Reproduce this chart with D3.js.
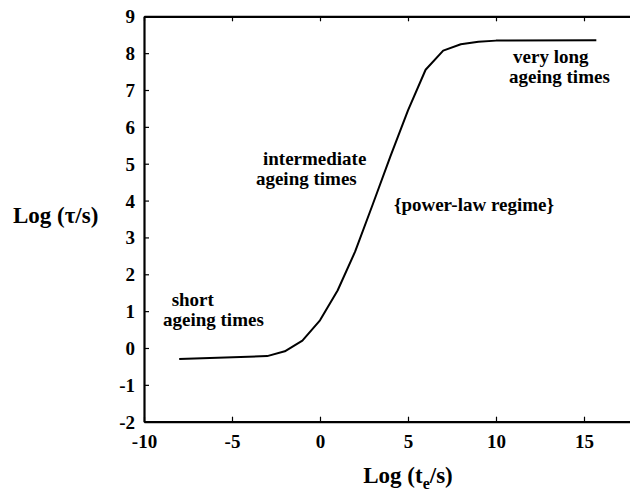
<!DOCTYPE html>
<html>
<head>
<meta charset="utf-8">
<script src="https://cdn.jsdelivr.net/npm/d3@7"></script>
<style>
  html, body { margin: 0; padding: 0; background: #fff; }
  svg text { font-family: "Liberation Serif", "Times New Roman", serif; font-weight: bold; fill: #000; }
</style>
</head>
<body>
<svg id="chart" width="630" height="494"></svg>
<script>
// ---- data ----
const logTe  = [-8, -3, -2, -1, 0, 1, 2, 3, 4, 5, 6, 7, 8, 9, 10, 15.7];
const logTau = [-0.30, -0.22, -0.09, 0.20, 0.75, 1.56, 2.62, 3.9, 5.2, 6.45, 7.55, 8.07, 8.24, 8.31, 8.34, 8.35];
const xTicks = [-10, -5, 0, 5, 10, 15];
const yTicks = [-2, -1, 0, 1, 2, 3, 4, 5, 6, 7, 8, 9];
const noteText = ["very long", "ageing times", "intermediate", "ageing times", "short", "ageing times", "{power-law regime}"];
const noteX    = [10.97, 10.74, -3.24, -3.64, -8.43, -8.92, 4.2];
const noteY    = [7.72, 7.18, 4.97, 4.43, 1.15, 0.61, 3.73];

// ---- layout ----
const svg = d3.select("#chart");
const plotL = 144, plotR = 672, plotT = 16.3, plotB = 421.7;
const x = d3.scaleLinear().domain([-10, 20]).range([plotL, plotR]);
const y = d3.scaleLinear().domain([-2, 9]).range([plotB, plotT]);

const fs = 19;
const fmt = d => String(d);

// bottom axis
const gb = svg.append("g").attr("transform", `translate(0,${plotB})`)
  .call(d3.axisBottom(x).tickValues(xTicks).tickSizeInner(-5).tickSizeOuter(0).tickPadding(13).tickFormat(fmt));
// top axis (ticks only)
const gt = svg.append("g").attr("transform", `translate(0,${plotT})`)
  .call(d3.axisTop(x).tickValues(xTicks).tickSizeInner(-5).tickSizeOuter(0).tickFormat(""));
// left axis
const gl = svg.append("g").attr("transform", `translate(${plotL},0)`)
  .call(d3.axisLeft(y).tickValues(yTicks).tickSizeInner(-5).tickSizeOuter(0).tickPadding(9).tickFormat(fmt));

[gb, gt, gl].forEach(g => {
  g.select(".domain").attr("stroke", "#000").attr("stroke-width", 2.2);
  g.selectAll(".tick line").attr("stroke", "#000").attr("stroke-width", 1.2);
  g.selectAll(".tick text").style("font-size", fs + "px")
    .style("font-family", '"Liberation Serif", "Times New Roman", serif').style("font-weight", "bold").attr("fill", "#000");
});
gl.selectAll(".tick text").attr("dy", "0.34em");

// curve
const pts = logTe.map((d, i) => [d, logTau[i]]);
svg.append("path")
  .datum(pts)
  .attr("fill", "none")
  .attr("stroke", "#000")
  .attr("stroke-width", 2)
  .attr("stroke-linejoin", "round")
  .attr("d", d3.line().x(d => x(d[0])).y(d => y(d[1])));

// annotations
svg.append("g").selectAll("text")
  .data(noteText)
  .join("text")
  .attr("x", (d, i) => x(noteX[i]))
  .attr("y", (d, i) => y(noteY[i]))
  .style("font-size", fs + "px")
  .text(d => d);

// axis titles
const xt = svg.append("text")
  .attr("x", x(5))
  .attr("y", 483)
  .attr("text-anchor", "middle")
  .style("font-size", "23px");
xt.append("tspan").text("Log (t");
xt.append("tspan").attr("dy", 6).style("font-size", "16px").text("e");
xt.append("tspan").attr("dy", -6).text("/s)");

svg.append("text")
  .attr("x", 13)
  .attr("y", 223)
  .style("font-size", "23px")
  .text("Log (τ/s)");
</script>
</body>
</html>
